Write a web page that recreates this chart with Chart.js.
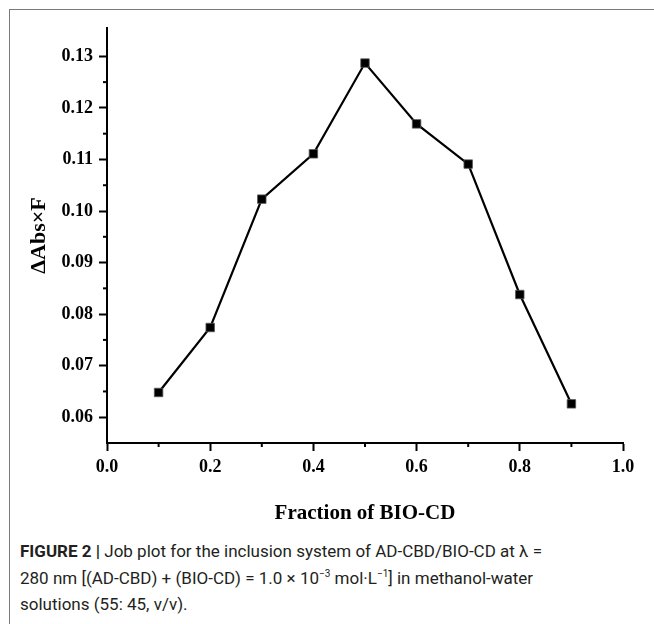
<!DOCTYPE html>
<html>
<head>
    <title>Job plot AD-CBD/BIO-CD</title>
    <script src="https://cdn.jsdelivr.net/npm/chart.js"></script>
    <style>
        body {
            margin: 0;
            width: 654px;
            height: 624px;
            background: #fff;
            position: relative;
            overflow: hidden;
        }
        .frame {
            position: absolute;
            left: 9px;
            top: 9px;
            right: 0;
            bottom: 0;
            border-top: 1px solid #7a7a7a;
            border-left: 1px solid #7a7a7a;
        }
        .chart-container {
            position: absolute;
            left: 0;
            top: 0;
            width: 654px;
            height: 535px;
        }
        .caption {
            position: absolute;
            left: 20px;
            top: 538px;
            width: 630px;
            font-family: Roboto, "Liberation Sans", sans-serif;
            font-size: 17px;
            line-height: 26.5px;
            color: #231f20;
        }
        .caption b { font-weight: 700; }
        .caption sup { font-size: 10px; line-height: 0; vertical-align: 7px; }
    </style>
</head>
<body>
    <div class="frame"></div>
    <div class="chart-container">
        <canvas id="jobChart"></canvas>
    </div>
    <div class="caption">
        <b>FIGURE 2 |</b> Job plot for the inclusion system of AD-CBD/BIO-CD at λ =<br>
        280 nm [(AD-CBD) + (BIO-CD) = 1.0 × 10<sup>−3</sup> mol·L<sup>−1</sup>] in methanol-water<br>
        solutions (55: 45, v/v).
    </div>
    <script>
        // 数据
        const fractions = [0.1, 0.2, 0.3, 0.4, 0.5, 0.6, 0.7, 0.8, 0.9];
        const deltaAbsF = [0.0648, 0.0774, 0.1023, 0.1111, 0.1287, 0.1169, 0.1091, 0.0838, 0.0626];

        // 次刻度
        const xMinorTicks = [0.1, 0.3, 0.5, 0.7, 0.9];
        const yMinorTicks = [0.065, 0.075, 0.085, 0.095, 0.105, 0.115, 0.125];

        const serif = "'Liberation Serif', 'DejaVu Serif', serif";

        const minorTicks = {
            id: 'minorTicks',
            afterDraw(chart) {
                const { ctx, scales: { x, y } } = chart;
                ctx.save();
                ctx.strokeStyle = '#000';
                ctx.lineWidth = 2;
                xMinorTicks.forEach(v => {
                    const px = x.getPixelForValue(v);
                    ctx.beginPath();
                    ctx.moveTo(px, x.top);
                    ctx.lineTo(px, x.top + 4);
                    ctx.stroke();
                });
                yMinorTicks.forEach(v => {
                    const py = y.getPixelForValue(v);
                    ctx.beginPath();
                    ctx.moveTo(y.right, py);
                    ctx.lineTo(y.right - 4, py);
                    ctx.stroke();
                });
                ctx.restore();
            }
        };

        const ctx = document.getElementById('jobChart').getContext('2d');
        new Chart(ctx, {
            type: 'line',
            data: {
                datasets: [{
                    label: 'ΔAbs×F',
                    data: fractions.map((f, i) => ({ x: f, y: deltaAbsF[i] })),
                    borderColor: '#000',
                    backgroundColor: '#000',
                    borderWidth: 2.2,
                    pointStyle: 'rect',
                    pointRadius: 6,
                    pointBorderColor: '#555',
                    pointBorderWidth: 0.8,
                    tension: 0
                }]
            },
            plugins: [minorTicks],
            options: {
                responsive: true,
                maintainAspectRatio: false,
                animation: false,
                layout: { padding: { left: 0, right: 31, top: 28, bottom: 0 } },
                plugins: {
                    legend: { display: false },
                    tooltip: { enabled: false }
                },
                scales: {
                    x: {
                        type: 'linear',
                        min: 0,
                        max: 1,
                        afterFit: s => { s.height = 92; },
                        border: { display: true, color: '#000', width: 2 },
                        grid: { drawOnChartArea: false, tickLength: 8, tickWidth: 2, tickColor: '#000' },
                        ticks: {
                            stepSize: 0.2,
                            padding: 6,
                            color: '#000',
                            font: { family: serif, size: 18, weight: 'bold' },
                            callback: v => v.toFixed(1)
                        },
                        title: {
                            display: true,
                            text: 'Fraction of BIO-CD',
                            color: '#000',
                            font: { family: serif, size: 21, weight: 'bold' },
                            padding: { top: 0, bottom: 9 }
                        }
                    },
                    y: {
                        min: 0.055,
                        max: 0.1355,
                        afterFit: s => { s.width = 107; },
                        border: { display: true, color: '#000', width: 2 },
                        grid: { drawOnChartArea: false, tickLength: 8, tickWidth: 2, tickColor: '#000' },
                        ticks: {
                            stepSize: 0.01,
                            includeBounds: false,
                            padding: 6,
                            color: '#000',
                            font: { family: serif, size: 18, weight: 'bold' },
                            callback: v => v.toFixed(2)
                        },
                        title: {
                            display: true,
                            text: 'ΔAbs×F',
                            color: '#000',
                            font: { family: serif, size: 22, weight: 'bold' },
                            padding: { top: 26, bottom: 0 }
                        }
                    }
                }
            }
        });
    </script>
</body>
</html>
